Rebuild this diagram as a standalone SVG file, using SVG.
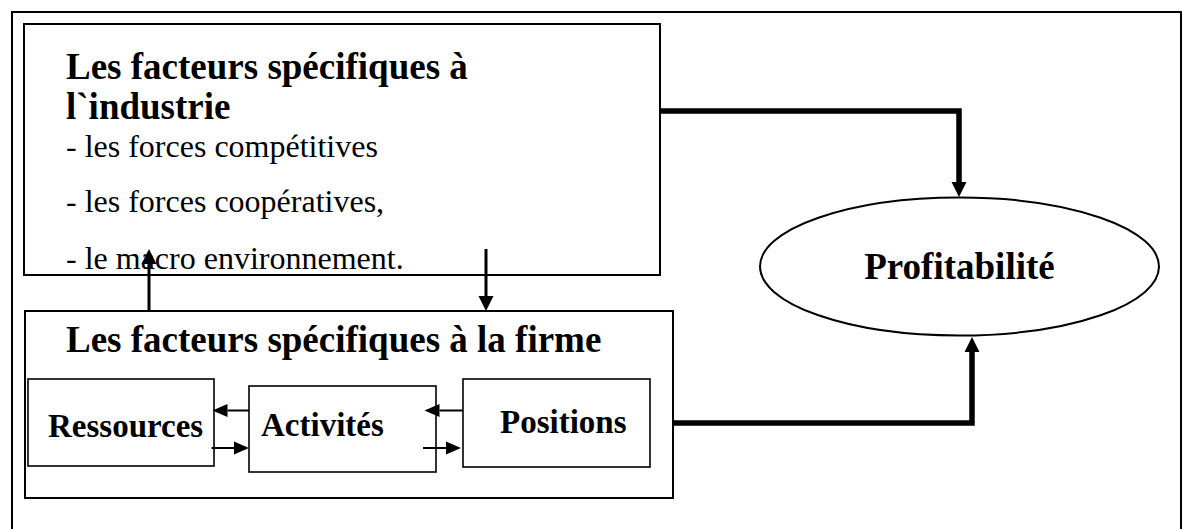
<svg xmlns="http://www.w3.org/2000/svg" width="1183" height="529" viewBox="0 0 1183 529">
  <style>
    .frame { fill: none; stroke: #000; stroke-width: 2; }
    .box { fill: #fff; stroke: #000; stroke-width: 2; }
    .sbox { fill: #fff; stroke: #000; stroke-width: 1.6; }
    .title { font-family: "Liberation Serif", "Times New Roman", serif; font-weight: bold; font-size: 37px; fill: #000; }
    .body { font-family: "Liberation Serif", "Times New Roman", serif; font-size: 32px; fill: #000; }
    .label { font-family: "Liberation Serif", "Times New Roman", serif; font-weight: bold; font-size: 33px; fill: #000; }
    .thick { fill: none; stroke: #000; stroke-width: 5.5; }
    .mid { fill: none; stroke: #000; stroke-width: 3; }
    .thin { fill: none; stroke: #000; stroke-width: 2; }
  </style>
  <defs>
    <marker id="headBig" markerUnits="userSpaceOnUse" markerWidth="16" markerHeight="16" refX="0" refY="7.5" orient="auto" overflow="visible">
      <path d="M0,0 L15,7.5 L0,15 Z" fill="#000"/>
    </marker>
    <marker id="headSmall" markerUnits="userSpaceOnUse" markerWidth="16" markerHeight="14" refX="0" refY="6.5" orient="auto" overflow="visible">
      <path d="M0,0 L15,6.5 L0,13 Z" fill="#000"/>
    </marker>
  </defs>

  <rect width="1183" height="529" fill="#fff"/>
  <!-- outer frame (open at the bottom) -->
  <rect class="frame" x="12" y="12" width="1169" height="540"/>

  <g id="industrie">
    <rect class="box" x="24" y="24" width="636" height="251"/>
    <text class="title" x="66" y="79">Les facteurs spécifiques à</text>
    <text class="title" x="66" y="119">l`industrie</text>
    <text class="body" x="66" y="157">- les forces compétitives</text>
    <text class="body" x="66" y="212">- les forces coopératives,</text>
    <text class="body" x="66" y="269">- le macro environnement.</text>
  </g>

  <g id="firme">
    <rect class="box" x="25" y="311" width="648" height="187"/>
    <text class="title" x="66" y="352">Les facteurs spécifiques à la firme</text>
  </g>

  <g id="ressources">
    <rect class="sbox" x="28" y="379" width="186" height="87"/>
    <text class="label" x="48" y="437">Ressources</text>
  </g>

  <g id="activites">
    <rect class="sbox" x="249" y="386" width="187" height="86"/>
    <text class="label" x="261" y="436">Activités</text>
  </g>

  <g id="positions">
    <rect class="sbox" x="463" y="379" width="187" height="88"/>
    <text class="label" x="500" y="433">Positions</text>
  </g>

  <g id="profitabilite">
    <ellipse cx="959.5" cy="266.5" rx="199.5" ry="69" fill="#fff" stroke="#000" stroke-width="2"/>
    <text class="title" x="959.5" y="279" text-anchor="middle">Profitabilité</text>
  </g>

  <g id="connectors">
    <!-- industry & firm to profitability -->
    <path class="thick" d="M660,111 H959 V182" marker-end="url(#headBig)"/>
    <path class="thick" d="M673,423 H972 V352" marker-end="url(#headBig)"/>
    <!-- firm <-> industry -->
    <path class="mid" d="M149,311 V264" marker-end="url(#headBig)"/>
    <path class="mid" d="M486,249 V296" marker-end="url(#headBig)"/>
    <!-- resources / activities / positions -->
    <path class="thin" d="M249,410.5 H227.5" marker-end="url(#headSmall)"/>
    <path class="thin" d="M211.5,448 H234" marker-end="url(#headSmall)"/>
    <path class="thin" d="M463,410.5 H439.5" marker-end="url(#headSmall)"/>
    <path class="thin" d="M423,448 H446" marker-end="url(#headSmall)"/>
  </g>
</svg>
